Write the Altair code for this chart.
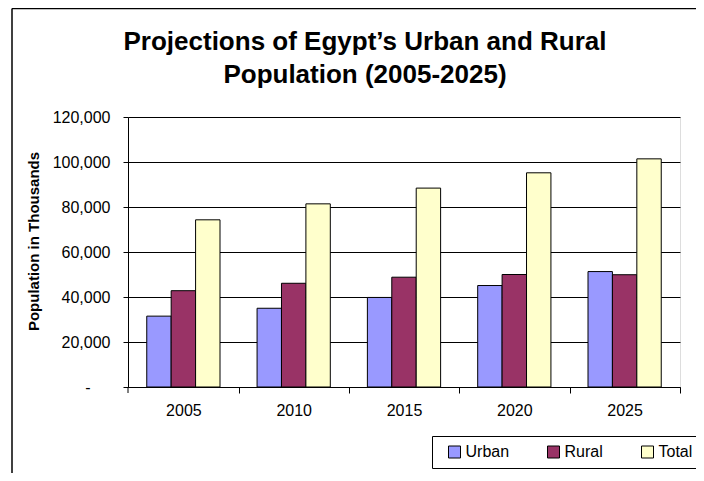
import altair as alt
import pandas as pd

years = ["2005", "2010", "2015", "2020", "2025"]
series = ["Urban", "Rural", "Total"]
urban = [31500, 35000, 39800, 45100, 51300]
rural = [42800, 46100, 48800, 50000, 49900]
total = [74300, 81400, 88400, 95200, 101400]
colors = ["#9999FF", "#993366", "#FFFFCC"]
y_ticks = [0, 20000, 40000, 60000, 80000, 100000, 120000]
title_lines = ["Projections of Egypt\u2019s Urban and Rural", "Population (2005-2025)"]
y_title = "Population in Thousands"

rows = []
for i, yr in enumerate(years):
    for s, vals in zip(series, [urban, rural, total]):
        rows.append({"Year": yr, "Series": s, "Value": vals[i]})
df = pd.DataFrame(rows)

FONT = "Liberation Sans, Arial, sans-serif"

bars = alt.Chart(df).mark_bar(stroke="black", strokeWidth=1).encode(
    x=alt.X(
        "Year:N", sort=years,
        scale=alt.Scale(paddingInner=0.336, paddingOuter=0.17),
        axis=alt.Axis(title=None, labelAngle=0, labelFontSize=16, labelFont=FONT,
                      labelColor="black", tickSize=6, tickColor="black",
                      domainColor="black", tickOffset=55.2, labelOffset=-55.2,
                      labelPadding=9),
    ),
    xOffset=alt.XOffset("Series:N", sort=series,
                        scale=alt.Scale(paddingInner=0, paddingOuter=0)),
    y=alt.Y(
        "Value:Q",
        scale=alt.Scale(domain=[0, 120000], nice=False),
        axis=alt.Axis(values=y_ticks, title=y_title,
                      labelExpr="datum.value == 0 ? '-' : format(datum.value, ',')",
                      labelFontSize=16, labelFont=FONT, labelColor="black",
                      tickSize=5, tickColor="black", domainColor="black",
                      labelPadding={"condition": {"test": "datum.value == 0", "value": 33},
                                    "value": 13},
                      grid=True, gridColor="black", gridWidth=1,
                      titleFont=FONT, titleFontSize=15, titleFontWeight="bold",
                      titleColor="black", titleX=-95, titleY=124,
                      titleBaseline="middle", titleAlign="center"),
    ),
    color=alt.Color(
        "Series:N", sort=series,
        scale=alt.Scale(domain=series, range=colors),
        legend=alt.Legend(title=None, orient="none", legendX=318.5, legendY=327,
                          direction="horizontal", symbolType="square",
                          symbolSize=144, symbolStrokeColor="black",
                          symbolStrokeWidth=1, labelFontSize=16, labelFont=FONT,
                          labelColor="black", labelOffset=3, columnPadding=36,
                          gridAlign="none", padding=0, symbolOpacity=1),
    ),
)

deco = pd.DataFrame({"k": [0]})
legend_box = alt.Chart(deco).mark_rect(fill="transparent", stroke="black", strokeWidth=1).encode(
    x=alt.value(304.5), x2=alt.value(660), y=alt.value(319.5), y2=alt.value(351.5)
)
frame_left = alt.Chart(deco).mark_rule(color="black", strokeWidth=1.5).encode(
    x=alt.value(-116), y=alt.value(-108.5), y2=alt.value(400)
)
frame_top = alt.Chart(deco).mark_rule(color="black", strokeWidth=1.5).encode(
    x=alt.value(-116), x2=alt.value(700), y=alt.value(-108.5)
)
extra_tick = alt.Chart(deco).mark_rule(color="black", strokeWidth=1).encode(
    x=alt.value(0), y=alt.value(270), y2=alt.value(276)
)
title_marks = [
    alt.Chart(deco).mark_text(font=FONT, fontSize=26, fontWeight="bold", color="black",
                              align="center", baseline="alphabetic").encode(
        x=alt.value(237), y=alt.value(yy), text=alt.value(line)
    )
    for line, yy in zip(title_lines, [-67, -34])
]

chart = alt.layer(bars, legend_box, frame_left, frame_top, extra_tick, *title_marks).properties(
    width=552, height=270,
    autosize=alt.AutoSizeParams(type="none"),
    padding={"left": 120, "top": 109, "right": 16, "bottom": 86},
).configure_view(
    fill="#C0C0C0", stroke="#808080", strokeWidth=1
).configure(background="white")

chart.save("out.html", embed_options={"renderer": "svg", "actions": False})
